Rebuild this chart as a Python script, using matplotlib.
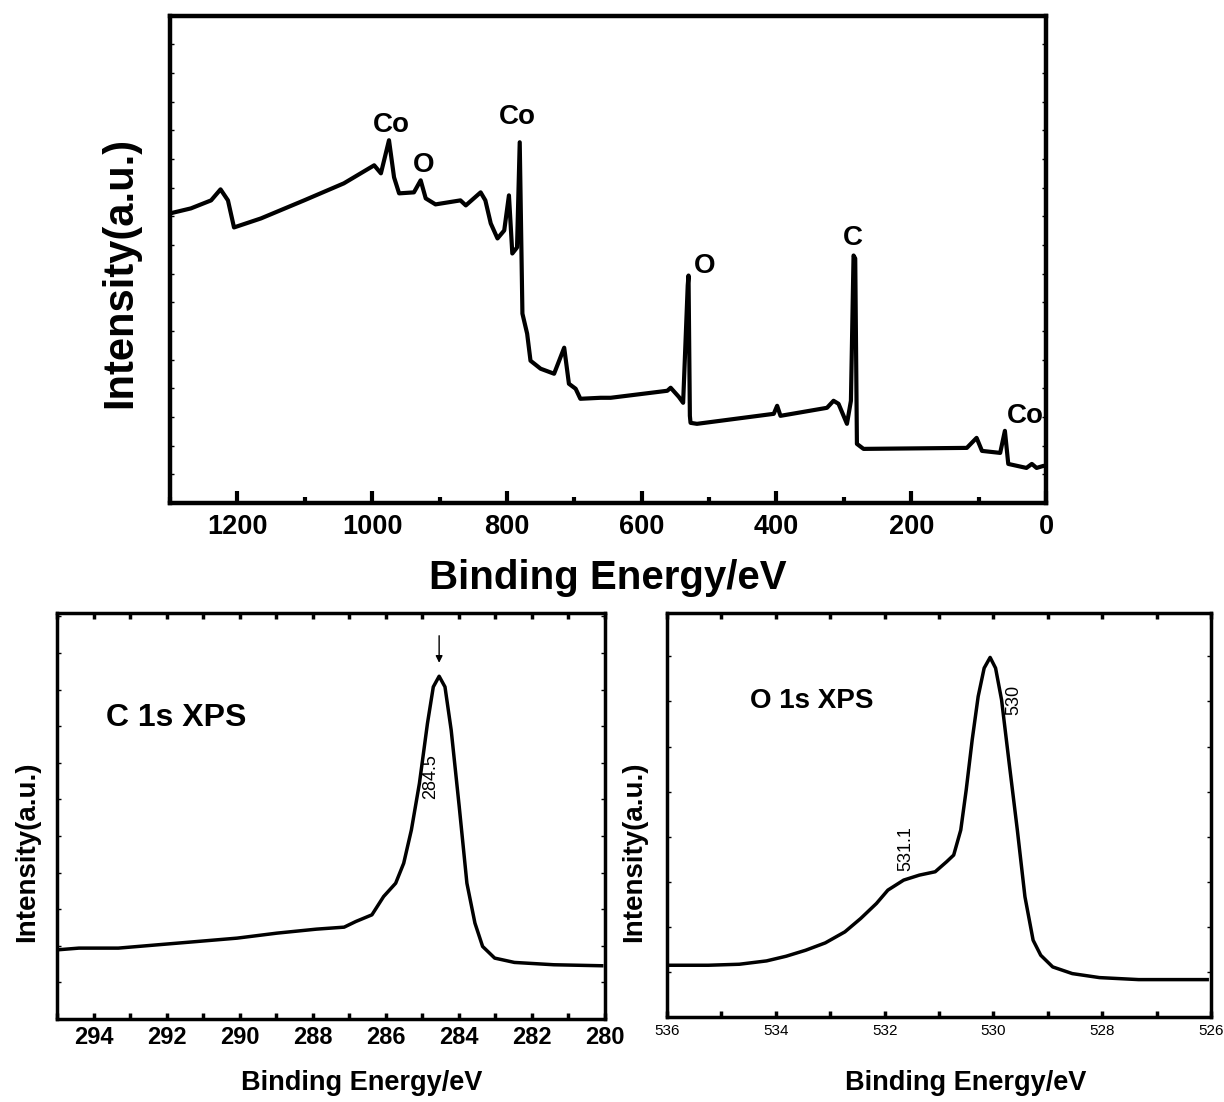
import matplotlib
matplotlib.use("Agg")
import matplotlib.pyplot as plt
from matplotlib.ticker import MultipleLocator, NullFormatter

plt.rcParams['font.family'] = ['Liberation Sans', 'DejaVu Sans']

# survey spectrum (binding energy eV, intensity a.u.)
survey_be = [1300, 1269, 1239, 1225, 1214, 1205, 1165, 1101, 1042, 997, 987, 975, 967.5, 960,
             938, 928, 920.5, 906, 869, 861, 839, 832, 824, 814, 804, 797, 792, 785, 781,
             777, 770, 765, 750, 730, 715, 708, 698, 691, 661, 646, 562, 557, 545, 538.5,
             531.7, 530.5, 528.5, 527.5, 518, 404, 399, 394, 325, 315.3, 307.9, 295.4,
             289.5, 285.6, 283.1, 280.6, 270.8, 117.5, 103, 95, 68, 61, 56, 29, 21, 14, 4, 0]
survey_int = [289, 294, 302, 313, 302, 275, 284, 302, 319, 337, 329, 362, 325, 309,
              310, 322, 304, 298, 302, 297, 310, 302, 279, 264, 272, 307, 249, 255, 360,
              189, 169, 142, 134, 129, 155, 119, 114, 104, 105, 105, 112, 115, 106, 100,
              217, 227, 87, 80, 79, 89, 97, 87, 95, 102, 99, 79,
              102, 247, 244, 59, 54, 55, 65, 52, 50, 72, 39, 35, 39, 35, 37, 37]
peak_labels = ["Co", "O", "Co", "O", "C", "Co"]
peak_label_be = [972, 923.5, 784, 507, 286, 31]
peak_label_int = [377, 337, 385, 237, 264, 87]

# C 1s
c1s_be = [294.97, 294.40, 293.32, 292.24, 291.15, 290.07, 288.98, 287.90, 287.14, 286.82,
          286.38, 286.06, 285.73, 285.51, 285.30, 285.08, 284.86, 284.70, 284.54, 284.38,
          284.21, 283.99, 283.78, 283.56, 283.35, 283.02, 282.48, 281.40, 280.09]
c1s_int = [208, 213, 213, 223, 233, 243, 258, 270, 276, 293,
           313, 368, 408, 468, 568, 708, 888, 998, 1030, 998,
           868, 638, 408, 288, 218, 183, 170, 163, 160]

# O 1s
o1s_be = [535.98, 535.24, 534.67, 534.17, 533.81, 533.45, 533.09, 532.73, 532.44, 532.15,
          531.94, 531.65, 531.36, 531.07, 530.86, 530.73, 530.60, 530.50, 530.39, 530.28,
          530.17, 530.06, 529.96, 529.85, 529.71, 529.56, 529.42, 529.27, 529.13, 528.91,
          528.55, 528.05, 527.33, 526.61, 526.07]
o1s_int = [155, 155, 158, 168, 182, 200, 222, 255, 295, 340,
           380, 410, 425, 435, 465, 485, 560, 680, 830, 960,
           1045, 1077, 1045, 950, 760, 560, 360, 230, 185, 150,
           130, 118, 112, 112, 112]

W, H = 1224, 1102
fig = plt.figure(figsize=(W / 100, H / 100), dpi=100)


def box(l, t, r, b):
    return [l / W, 1 - b / H, (r - l) / W, (b - t) / H]


def ftext(x, y, s, **kw):
    fig.text(x / W, 1 - y / H, s, ha='center', va='center', **kw)


# ---- survey ----
ax = fig.add_axes(box(170, 16, 1046, 503))
ax.plot(survey_be, survey_int, color='k', lw=3)
ax.set_xlim(1300, 0)
ax.set_ylim(0, 486)
for s, x, y in zip(peak_labels, peak_label_be, peak_label_int):
    ax.text(x, y, s, ha='center', va='center', fontsize=20, fontweight='bold', clip_on=True)
ax.xaxis.set_major_locator(MultipleLocator(200))
ax.xaxis.set_minor_locator(MultipleLocator(100))
ax.yaxis.set_major_locator(MultipleLocator(28.6))
ax.yaxis.set_major_formatter(NullFormatter())
ax.tick_params(axis='x', which='major', direction='in', length=9, width=3, pad=8,
               labelsize=19.5)
ax.tick_params(axis='x', which='minor', direction='in', length=4, width=3)
ax.tick_params(axis='y', which='major', direction='in', length=3, width=1,
               left=True, right=True)
for lab in ax.get_xticklabels():
    lab.set_fontweight('bold')
for sp in ax.spines.values():
    sp.set_linewidth(3.2)
ftext(608, 578, "Binding Energy/eV", fontsize=29, fontweight='bold')
ftext(120, 272, "Intensity(a.u.)", fontsize=30, fontweight='bold', rotation=90)

# ---- C 1s ----
ax1 = fig.add_axes(box(57, 613, 605, 1019))
ax1.plot(c1s_be, c1s_int, color='k', lw=2.5)
ax1.set_xlim(295, 280)
ax1.set_ylim(0, 1220)
ax1.xaxis.set_major_locator(MultipleLocator(2))
ax1.xaxis.set_minor_locator(MultipleLocator(1))
ax1.yaxis.set_major_locator(MultipleLocator(110))
ax1.yaxis.set_major_formatter(NullFormatter())
ax1.tick_params(axis='x', which='both', direction='in', length=4, width=2.5, pad=5,
                labelsize=17, top=True)
ax1.tick_params(axis='y', direction='in', length=3, width=1, left=True, right=True)
for lab in ax1.get_xticklabels():
    lab.set_fontweight('bold')
for sp in ax1.spines.values():
    sp.set_linewidth(2.5)
ax1.text(291.75, 903, "C 1s XPS", ha='center', va='center', fontsize=23, fontweight='bold')
ax1.annotate('', xy=(284.54, 1062), xytext=(284.54, 1160),
             arrowprops=dict(arrowstyle='-|>', lw=1, color='k', mutation_scale=10))
ax1.text(284.78, 728, "284.5", ha='center', va='center', fontsize=13, rotation=90)
ftext(362, 1083, "Binding Energy/eV", fontsize=19.5, fontweight='bold')
ftext(27, 852, "Intensity(a.u.)", fontsize=20, fontweight='bold', rotation=90)

# ---- O 1s ----
ax2 = fig.add_axes(box(667, 613, 1211, 1017))
ax2.plot(o1s_be, o1s_int, color='k', lw=2.5)
ax2.set_xlim(536, 526)
ax2.set_ylim(0, 1210)
ax2.xaxis.set_major_locator(MultipleLocator(2))
ax2.xaxis.set_minor_locator(MultipleLocator(1))
ax2.yaxis.set_major_locator(MultipleLocator(135))
ax2.yaxis.set_major_formatter(NullFormatter())
ax2.tick_params(axis='x', which='both', direction='in', length=4, width=2.5, pad=5,
                labelsize=11, top=True)
ax2.tick_params(axis='y', direction='in', length=3, width=1, left=True, right=True)
for sp in ax2.spines.values():
    sp.set_linewidth(2.5)
ax2.text(533.34, 945, "O 1s XPS", ha='center', va='center', fontsize=20, fontweight='bold')
ax2.text(529.63, 950, "530", ha='center', va='center', fontsize=13, rotation=90)
ax2.text(531.61, 505, "531.1", ha='center', va='center', fontsize=13, rotation=90)
ftext(966, 1083, "Binding Energy/eV", fontsize=19.5, fontweight='bold')
ftext(634, 852, "Intensity(a.u.)", fontsize=20, fontweight='bold', rotation=90)

fig.savefig("out.png", dpi=100)
